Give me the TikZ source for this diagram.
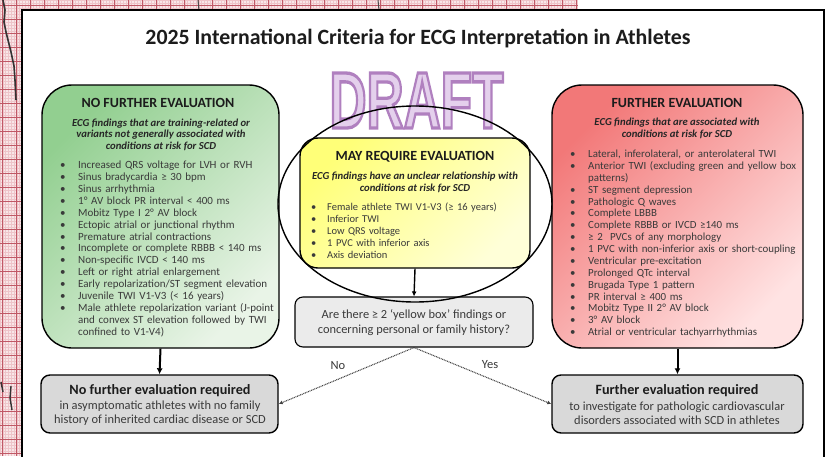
\documentclass[tikz,border=0pt]{standalone}
\usepackage{graphicx}
\usepackage{fontspec}
\setmainfont{Carlito}
\newfontfamily\draftfont{Liberation Sans}
\usetikzlibrary{arrows.meta}
\definecolor{txt}{HTML}{3A3A3A}
\definecolor{ttl}{HTML}{1C1C1C}
\definecolor{subc}{HTML}{262626}
\definecolor{gA}{HTML}{92CF90}
\definecolor{gB}{HTML}{E9F4E7}
\definecolor{rA}{HTML}{F27878}
\definecolor{rB}{HTML}{FFE3E3}
\definecolor{yA}{HTML}{FFFF78}
\definecolor{yB}{HTML}{FFFFD8}
\definecolor{qgray}{HTML}{EBEBEB}
\definecolor{bgray}{HTML}{D9D9D9}
\definecolor{ecgbg}{HTML}{F8E6E8}
\definecolor{ecgminor}{HTML}{EEC4C9}
\definecolor{ecgmajor}{HTML}{C05866}
\definecolor{draftin}{HTML}{E4D0EC}
\newcommand\bl[2][18pt]{\par\noindent\makebox[#1][l]{\textbullet}#2}
\newcommand\cont[2][18pt]{\par\noindent\hspace*{#1}#2}
\newcommand\draftword{\resizebox{174pt}{55pt}{\draftfont\bfseries\fontsize{77}{80}\selectfont\special{pdf:literal direct 0.690 0.500 0.750 RG 2 Tr 3.2 w}DRAFT}}
\begin{document}
\begin{tikzpicture}[x=1pt,y=-1pt,
  box/.style={draw=black, line width=1.4pt},
  bigbox/.style={box, rounded corners=30pt, minimum width=237pt, minimum height=263pt, inner sep=0pt},
  greenbox/.style={bigbox, top color=gA, bottom color=gB, shading angle=45},
  redbox/.style={bigbox, minimum width=251pt, top color=rA, bottom color=rB, shading angle=45},
  yellowbox/.style={box, rounded corners=18pt, minimum width=230pt, minimum height=130pt, inner sep=0pt, top color=yA, bottom color=yB, shading angle=45},
  graybox/.style={box, rounded corners=9pt, minimum width=237pt, minimum height=58pt, inner sep=0pt, fill=bgray},
  qbox/.style={box, line width=1.1pt, rounded corners=8pt, minimum width=238pt, minimum height=50pt, inner sep=0pt, fill=qgray},
  boxtitle/.style={font=\fontsize{14}{16}\selectfont\bfseries, text=ttl, inner sep=0pt},
  subtitle/.style={font=\fontsize{10.7}{11.6}\selectfont\bfseries\itshape, align=center, text=subc, inner sep=0pt},
  lst/.style={anchor=north west, inner sep=0pt, text width=300pt, align=left, text=txt},
  boldline/.style={font=\fontsize{14.2}{16}\selectfont\bfseries, text=ttl, inner sep=0pt},
  plainlines/.style={font=\fontsize{12.4}{14.2}\selectfont, text=txt, align=center, inner sep=0pt},
  label/.style={font=\fontsize{12.5}{14}\selectfont, text=txt, inner sep=0pt},
  thickarrow/.style={line width=2pt, -{Latex[length=6pt,width=6pt]}},
  thinarrow/.style={line width=1.4pt, -{Latex[length=5pt,width=5pt]}},
  dotarrow/.style={line width=1.1pt, draw=black!75, dash pattern=on 0.9pt off 0.8pt, -{Latex[length=4pt,width=4pt]}}
]
\useasboundingbox (0,0) rectangle (831,456);
% ECG paper background
\begin{scope}
  \clip (0,0) rectangle (22,456) (0,0) rectangle (578,10);
  \fill[ecgbg] (0,0) rectangle (578,456);
  \foreach \x in {0,2.8,...,578} \draw[ecgminor, line width=0.3pt] (\x,0) -- (\x,456);
  \foreach \y in {0,2.8,...,456} \draw[ecgminor, line width=0.3pt] (0,\y) -- (578,\y);
  \foreach \x in {2,16,...,578} \draw[ecgmajor, line width=0.7pt] (\x,0) -- (\x,456);
  \foreach \y in {5,19,...,456} \draw[ecgmajor, line width=0.7pt] (0,\y) -- (578,\y);
  \draw[black!80, line width=1.6pt, line join=round] (3,0) -- (5,10) -- (4,22) -- (6,32) -- (8,40) -- (11,52) -- (14,66) -- (15,80) -- (16,100);
  \draw[black!80, line width=1.4pt] (1,382) -- (3,392);
  \draw[black!80, line width=1.4pt] (11,386) -- (10,398) -- (12,410);
  \draw[black!70, line width=1pt] (198,0) -- (199,10);
  \draw[black!70, line width=1pt] (378,0) -- (379,10);
\end{scope}
% white panel
\fill[white] (22,10) rectangle (824,470);
\draw[black, line width=1.4pt] (22,470) -- (22,10) -- (824,10) -- (824,470);
% title
\node[font=\bfseries\fontsize{18}{20}\selectfont, text=ttl, inner sep=0pt] (title) at (418,39)
  {\resizebox{545pt}{!}{2025 International Criteria for ECG Interpretation in Athletes}};
% DRAFT watermark (outlined text)
\node[text=draftin, inner sep=0pt] (draft) at (416.5,100.5) {\draftword};
% boxes
\node[greenbox] (nfe) at (160.5,216.5) {};
\node[redbox] (fe) at (677.5,216.5) {};
\node[yellowbox] (may) at (415,203) {};
\node[qbox] (q) at (414,322) {};
\node[graybox] (nfebot) at (159.5,404) {};
\node[graybox, minimum width=251pt] (febot) at (677.5,404) {};
% ellipse
\draw[black, line width=1.4pt] (415,204) ellipse [x radius=137, y radius=98];
% green box texts
\node[boxtitle] (nfetitle) at (158,103) {NO FURTHER EVALUATION};
\node[subtitle] (nfesub) at (161,134.5) {ECG findings that are training-related or\\variants not generally associated with\\conditions at risk for SCD};
\node[lst, font=\fontsize{11}{11.9}\selectfont] (nfelist) at (60,156.5) {%
\bl{\rule{0pt}{10pt}Increased QRS voltage for LVH or RVH}
\bl{Sinus bradycardia ≥ 30 bpm}
\bl{Sinus arrhythmia}
\bl{1° AV block PR interval < 400 ms}
\bl{Mobitz Type I 2° AV block}
\bl{Ectopic atrial or junctional rhythm}
\bl{Premature atrial contractions}
\bl{Incomplete or complete RBBB < 140 ms}
\bl{Non-specific IVCD < 140 ms}
\bl{Left or right atrial enlargement}
\bl{Early repolarization/ST segment elevation}
\bl{Juvenile TWI V1-V3 (< 16 years)}
\bl{Male athlete repolarization variant (J-point}
\cont{and convex ST elevation followed by TWI}
\cont{confined to V1-V4)}};
% yellow box texts
\node[boxtitle] (maytitle) at (415,157) {MAY REQUIRE EVALUATION};
\node[subtitle] (maysub) at (415,182.5) {ECG findings have an unclear relationship with\\conditions at risk for SCD};
\node[lst, font=\fontsize{10.5}{11.9}\selectfont] (maylist) at (311,198.5) {%
\bl[16pt]{\rule{0pt}{10pt}Female athlete TWI V1-V3 (≥ 16 years)}
\bl[16pt]{Inferior TWI}
\bl[16pt]{Low QRS voltage}
\bl[16pt]{1 PVC with inferior axis}
\bl[16pt]{Axis deviation}};
% red box texts
\node[boxtitle] (fetitle) at (677,103) {FURTHER EVALUATION};
\node[subtitle] (fesub) at (677,128.5) {ECG findings that are associated with\\conditions at risk for SCD};
\node[lst, font=\fontsize{10.9}{11.87}\selectfont] (felist) at (570,145.5) {%
\bl{\rule{0pt}{10pt}Lateral, inferolateral, or anterolateral TWI}
\bl{Anterior TWI (excluding green and yellow box}
\cont{patterns)}
\bl{ST segment depression}
\bl{Pathologic Q waves}
\bl{Complete LBBB}
\bl{Complete RBBB or IVCD ≥140 ms}
\bl{≥ 2\ \ PVCs of any morphology}
\bl{1 PVC with non-inferior axis or short-coupling}
\bl{Ventricular pre-excitation}
\bl{Prolonged QTc interval}
\bl{Brugada Type 1 pattern}
\bl{PR interval ≥ 400 ms}
\bl{Mobitz Type II 2° AV block}
\bl{3° AV block}
\bl{Atrial or ventricular tachyarrhythmias}};
% question text
\node[plainlines, font=\fontsize{12.4}{14.5}\selectfont] (qtext) at (414,322.5) {Are there ≥ 2 ‘yellow box’ findings or\\concerning personal or family history?};
% bottom texts
\node[boldline] (nfebottitle) at (160,391) {No further evaluation required};
\node[plainlines] (nfebottext) at (160,413) {in asymptomatic athletes with no family\\history of inherited cardiac disease or SCD};
\node[boldline] (febottitle) at (677,391) {Further evaluation required};
\node[plainlines] (febottext) at (677,413) {to investigate for pathologic cardiovascular\\disorders associated with SCD in athletes};
% connectors
\draw[thinarrow] (may.south) -- (q.north);
\draw[thickarrow] (nfe.south) -- (nfebot.north);
\draw[thickarrow] (fe.south) -- (febot.north);
\draw[dotarrow] (q.south) -- (nfebot.east);
\draw[dotarrow] (q.south) -- (febot.west);
\node[label] (nolab) at (338,366) {No};
\node[label] (yeslab) at (490,365) {Yes};
\end{tikzpicture}
\end{document}
